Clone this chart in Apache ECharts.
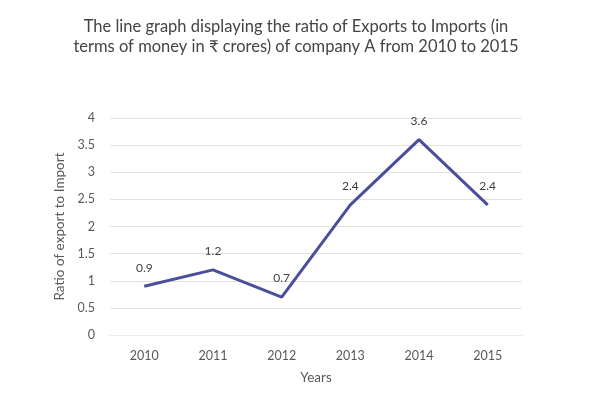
<!DOCTYPE html>
<html><head><meta charset="utf-8">
<script src="https://cdn.jsdelivr.net/npm/echarts@6/dist/echarts.min.js"></script>
<style>html,body{margin:0;padding:0;background:#fff;}#c{width:592px;height:412px;}</style>
</head><body><div id="c"></div>
<script>
const years = ['2010','2011','2012','2013','2014','2015'];
const ratios = [0.9, 1.2, 0.7, 2.4, 3.6, 2.4];
const yTicks = [0, 0.5, 1, 1.5, 2, 2.5, 3, 3.5, 4];
const chart = echarts.init(document.getElementById('c'));
const font = 'Lato, sans-serif';
chart.setOption({
  animation: false,
  title: {
    text: 'The line graph displaying the ratio of Exports to Imports (in\nterms of money in ₹ crores) of company A from 2010 to 2015',
    left: 'center', top: 12,
    textStyle: {fontFamily: font, fontSize: 16.5, fontWeight: 'normal', color: '#444444', lineHeight: 20}
  },
  grid: {left: 110, right: 70, top: 118, bottom: 77},
  xAxis: {
    type: 'category', data: years, boundaryGap: true,
    name: 'Years', nameLocation: 'middle', nameGap: 36,
    nameTextStyle: {fontFamily: font, fontSize: 13.5, color: '#595959'},
    axisLine: {show: true, lineStyle: {color: '#ececec'}},
    axisTick: {show: false},
    axisLabel: {fontFamily: font, fontSize: 12.5, color: '#595959', margin: 14}
  },
  yAxis: {
    type: 'value', min: 0, max: 4, interval: 0.5,
    name: 'Ratio of export to Import', nameLocation: 'middle', nameGap: 41,
    nameTextStyle: {fontFamily: font, fontSize: 13.5, color: '#595959'},
    axisLine: {show: false}, axisTick: {show: false},
    axisLabel: {fontFamily: font, fontSize: 12.5, color: '#595959', margin: 15,
      formatter: v => yTicks.includes(v) ? String(v) : ''},
    splitLine: {lineStyle: {color: '#e2e2e2', width: 1}}
  },
  series: [{
    type: 'line', data: ratios, symbol: 'circle', symbolSize: 1, showSymbol: true,
    itemStyle: {color: '#4a4f9a'},
    lineStyle: {color: '#4a4f9a', width: 3},
    label: {show: true, position: 'top', distance: 12, fontFamily: font, fontSize: 12, color: '#404040'}
  }]
});
</script></body></html>
